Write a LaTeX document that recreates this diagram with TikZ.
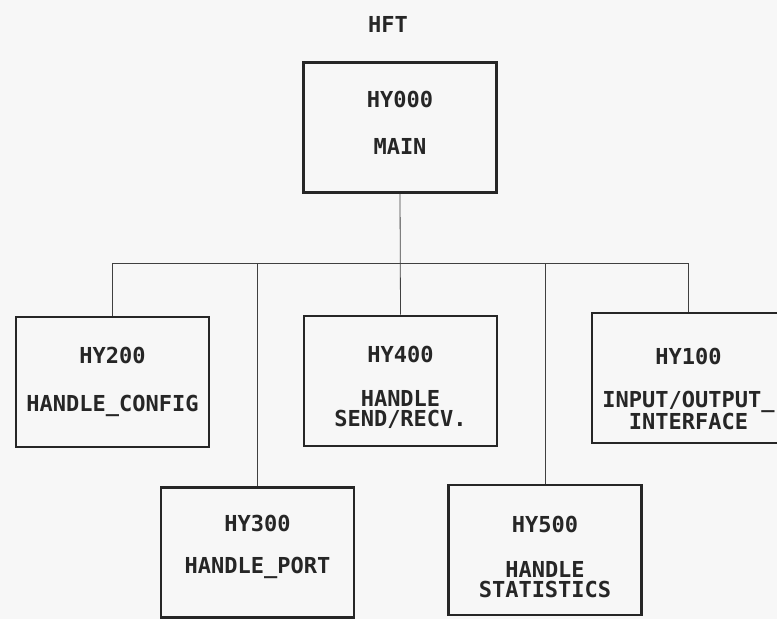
\documentclass[tikz,border=0pt]{standalone}
\usepackage{fontspec}
\setmonofont{DejaVu Sans Mono}
\usetikzlibrary{positioning}

\begin{document}
\begin{tikzpicture}[
  x=1pt, y=-1pt,
  node distance=30pt,
  module/.style={rectangle, draw=black!85, line width=2.8pt, minimum width=193pt,
    minimum height=130pt, inner sep=0pt},
  code/.style={inner sep=0pt, text=black!85, align=center,
    font=\ttfamily\bfseries\fontsize{22}{20}\selectfont},
  link/.style={line width=0.8pt, draw=black!75}
]
\useasboundingbox[fill=black!3] (0,0) rectangle (777,619);

\node[code] (title) at (388,24) {HFT};

% boxes
\node[module] (main) at (400,127.5) {};
\node[module] (hy200) at (112.5,382) {};
\node[module] (hy400) at (400.5,381) {};
\node[module] (hy100) at (688.5,378) {};
\node[module] (hy300) at (257.5,552.5) {};
\node[module] (hy500) at (545,550) {};

% texts
\node[code, below=30pt of main.north] (main id) {HY000};
\node[code, below=of main id] (main name) {MAIN};

\node[code, below=31pt of hy200.north] (hy200 id) {HY200};
\node[code, below=31pt of hy200 id] (hy200 name) {HANDLE\_CONFIG};

\node[code, below=31pt of hy400.north] (hy400 id) {HY400};
\node[code, below=28pt of hy400 id] (hy400 name) {HANDLE\\SEND/RECV.};

\node[code, below=36pt of hy100.north] (hy100 id) {HY100};
\node[code, below=26pt of hy100 id] (hy100 name) {INPUT/OUTPUT\_\\INTERFACE};

\node[code, below=29pt of hy300.north] (hy300 id) {HY300};
\node[code, below=25pt of hy300 id] (hy300 name) {HANDLE\_PORT};

\node[code, below=32pt of hy500.north] (hy500 id) {HY500};
\node[code, below=29pt of hy500 id] (hy500 name) {HANDLE\\STATISTICS};

% connectors
\coordinate (hub) at (400,263);
\draw[link] (main.south) -- (hy400.north);
\draw[link] (hy200.north) -- (hy200.north |- hub) -- (hy100.north |- hub) -- (hy100.north);
\draw[link] (hy300.north) -- (hy300.north |- hub);
\draw[link] (hy500.north) -- (hy500.north |- hub);
\end{tikzpicture}
\end{document}
